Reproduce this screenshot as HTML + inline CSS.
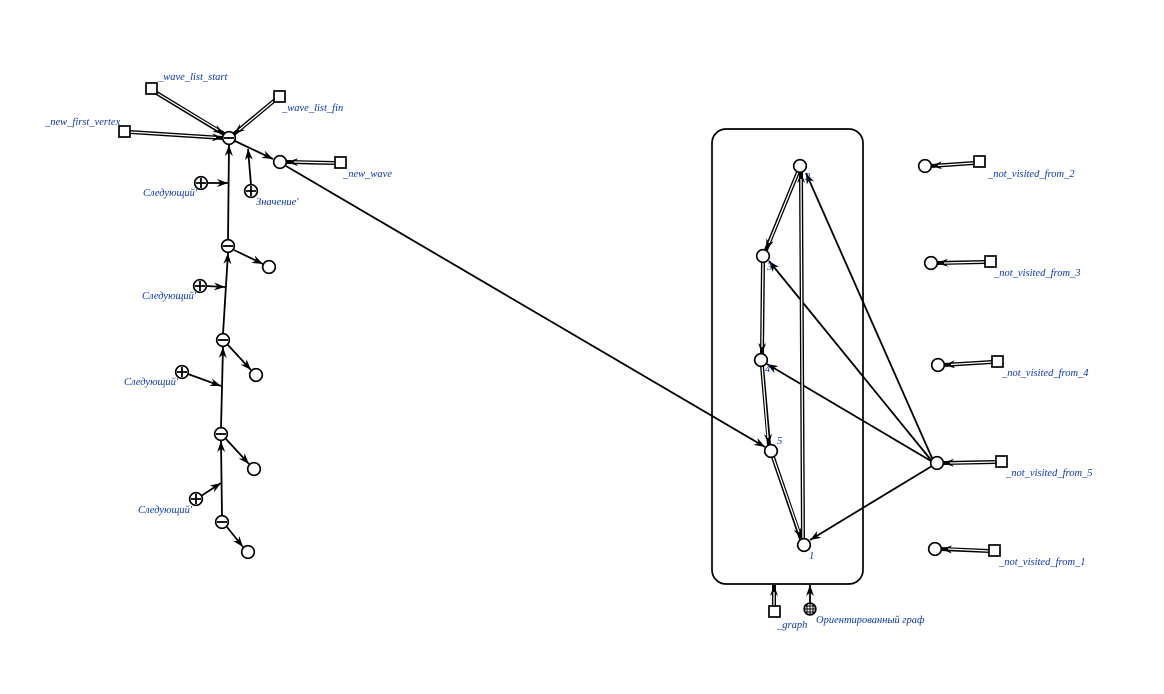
<!DOCTYPE html>
<html><head><meta charset="utf-8"><style>
html,body{margin:0;padding:0;background:#fff;}
svg{display:block;}
text{font-family:"Liberation Serif",serif;font-style:italic;font-size:10.5px;fill:#0a37b0;}
</style></head><body>
<svg width="1164" height="694" viewBox="0 0 1164 694" xmlns="http://www.w3.org/2000/svg">
<defs>
<marker id="a" markerUnits="userSpaceOnUse" markerWidth="12" markerHeight="10" refX="11" refY="4" orient="auto">
<path d="M0,0 L11,4 L0,8 L3.5,4 z" fill="#000"/></marker>
</defs>
<g stroke="#000" stroke-width="1.8" fill="none" marker-end="url(#a)">
<line x1="228" y1="240" x2="229" y2="145"/>
<line x1="223" y1="334" x2="228" y2="253"/>
<line x1="221" y1="428" x2="223" y2="347"/>
<line x1="222" y1="516" x2="221" y2="441"/>
<line x1="235" y1="141" x2="273" y2="159"/>
<line x1="234" y1="250" x2="263" y2="264"/>
<line x1="228" y1="345" x2="251" y2="370"/>
<line x1="226" y1="439" x2="249" y2="464"/>
<line x1="227" y1="527" x2="243" y2="547"/>
<line x1="207" y1="183" x2="228" y2="183"/>
<line x1="251" y1="185" x2="248" y2="149"/>
<line x1="206" y1="286" x2="225" y2="287"/>
<line x1="188" y1="374" x2="221" y2="386"/>
<line x1="201" y1="496" x2="221" y2="483"/>
<line x1="286" y1="166" x2="765" y2="447"/>
<line x1="932" y1="458" x2="806" y2="173"/>
<line x1="931" y1="460" x2="769" y2="261"/>
<line x1="931" y1="461" x2="767" y2="364"/>
<line x1="932" y1="466" x2="810" y2="540"/>
<line x1="810" y1="603" x2="810" y2="585"/>
</g>
<g stroke="#000" stroke-width="4" fill="none" marker-end="url(#a)">
<line x1="155" y1="92" x2="224" y2="134"/>
<line x1="275" y1="100" x2="234" y2="134"/>
<line x1="130" y1="132" x2="223" y2="138"/>
<line x1="335" y1="163" x2="287" y2="162"/>
<line x1="798" y1="172" x2="766" y2="250"/>
<line x1="763" y1="262" x2="762" y2="354"/>
<line x1="762" y1="366" x2="769" y2="445"/>
<line x1="773" y1="457" x2="801" y2="539"/>
<line x1="803" y1="539" x2="801" y2="172"/>
<line x1="974" y1="163" x2="931" y2="166"/>
<line x1="985" y1="262" x2="937" y2="263"/>
<line x1="992" y1="362" x2="944" y2="365"/>
<line x1="996" y1="462" x2="943" y2="463"/>
<line x1="989" y1="551" x2="941" y2="549"/>
<line x1="774" y1="606" x2="774" y2="585"/>
</g>
<g stroke="#fff" stroke-width="1.3" fill="none">
<line x1="155" y1="92" x2="218" y2="130"/>
<line x1="275" y1="100" x2="239" y2="130"/>
<line x1="130" y1="132" x2="216" y2="137.5"/>
<line x1="335" y1="163" x2="294" y2="162"/>
<line x1="798" y1="172" x2="769" y2="243"/>
<line x1="763" y1="262" x2="762" y2="347"/>
<line x1="762" y1="366" x2="768" y2="438"/>
<line x1="773" y1="457" x2="799" y2="532"/>
<line x1="803" y1="539" x2="801" y2="179"/>
<line x1="974" y1="163" x2="938" y2="165.5"/>
<line x1="985" y1="262" x2="944" y2="263"/>
<line x1="992" y1="362" x2="951" y2="364.5"/>
<line x1="996" y1="462" x2="950" y2="463"/>
<line x1="989" y1="551" x2="948" y2="549"/>
<line x1="774" y1="606" x2="774" y2="592"/>
</g>
<rect x="712" y="129" width="151" height="455" rx="14" fill="none" stroke="#000" stroke-width="1.7"/>
<g fill="#fff" stroke="#000" stroke-width="1.7">
<circle cx="280" cy="162" r="6.3"/><circle cx="269" cy="267" r="6.3"/><circle cx="256" cy="375" r="6.3"/>
<circle cx="254" cy="469" r="6.3"/><circle cx="248" cy="552" r="6.3"/>
<circle cx="800" cy="166" r="6.3"/><circle cx="763" cy="256" r="6.3"/><circle cx="761" cy="360" r="6.3"/>
<circle cx="771" cy="451" r="6.3"/><circle cx="804" cy="545" r="6.3"/><circle cx="937" cy="463" r="6.3"/>
<circle cx="925" cy="166" r="6.3"/><circle cx="931" cy="263" r="6.3"/><circle cx="938" cy="365" r="6.3"/>
<circle cx="935" cy="549" r="6.3"/>
<rect x="146" y="83" width="11" height="11"/><rect x="274" y="91" width="11" height="11"/>
<rect x="119" y="126" width="11" height="11"/><rect x="335" y="157" width="11" height="11"/>
<rect x="974" y="156" width="11" height="11"/><rect x="985" y="256" width="11" height="11"/>
<rect x="992" y="356" width="11" height="11"/><rect x="996" y="456" width="11" height="11"/>
<rect x="989" y="545" width="11" height="11"/><rect x="769" y="606" width="11" height="11"/>
</g>
<g fill="#fff" stroke="#000" stroke-width="1.7">
<circle cx="229" cy="138" r="6.3"/><circle cx="228" cy="246" r="6.3"/><circle cx="223" cy="340" r="6.3"/>
<circle cx="221" cy="434" r="6.3"/><circle cx="222" cy="522" r="6.3"/>
<circle cx="201" cy="183" r="6.3"/><circle cx="251" cy="191" r="6.3"/><circle cx="200" cy="286" r="6.3"/>
<circle cx="182" cy="372" r="6.3"/><circle cx="196" cy="499" r="6.3"/>
<circle cx="810" cy="609" r="5.8"/>
</g>
<g stroke="#000" stroke-width="1.8">
<line x1="224" y1="138" x2="234" y2="138"/><line x1="223" y1="246" x2="233" y2="246"/>
<line x1="218" y1="340" x2="228" y2="340"/><line x1="216" y1="434" x2="226" y2="434"/>
<line x1="217" y1="522" x2="227" y2="522"/>
<path d="M196,183h10M201,178v10M246,191h10M251,186v10M195,286h10M200,281v10M177,372h10M182,367v10M191,499h10M196,494v10"/>
<path stroke-width="1" d="M805,609h10M810,604v10M806,606h8M806,612h8M807,605v8M813,605v8"/>
</g>
<text x="158" y="80">_wave_list_start</text>
<text x="282" y="111">_wave_list_fin</text>
<text x="45" y="125">_new_first_vertex</text>
<text x="343" y="177">_new_wave</text>
<text x="143" y="196">Следующий'</text>
<text x="256" y="205">Значение'</text>
<text x="142" y="299">Следующий'</text>
<text x="124" y="385">Следующий'</text>
<text x="138" y="513">Следующий'</text>
<text x="805" y="180">2</text>
<text x="767" y="270">3</text>
<text x="765" y="372">4</text>
<text x="777" y="444">5</text>
<text x="809" y="559">1</text>
<text x="988" y="177">_not_visited_from_2</text>
<text x="994" y="276">_not_visited_from_3</text>
<text x="1002" y="376">_not_visited_from_4</text>
<text x="1006" y="476">_not_visited_from_5</text>
<text x="999" y="565">_not_visited_from_1</text>
<text x="777" y="628">_graph</text>
<text x="816" y="623">Ориентированный граф</text>
</svg>
</body></html>
